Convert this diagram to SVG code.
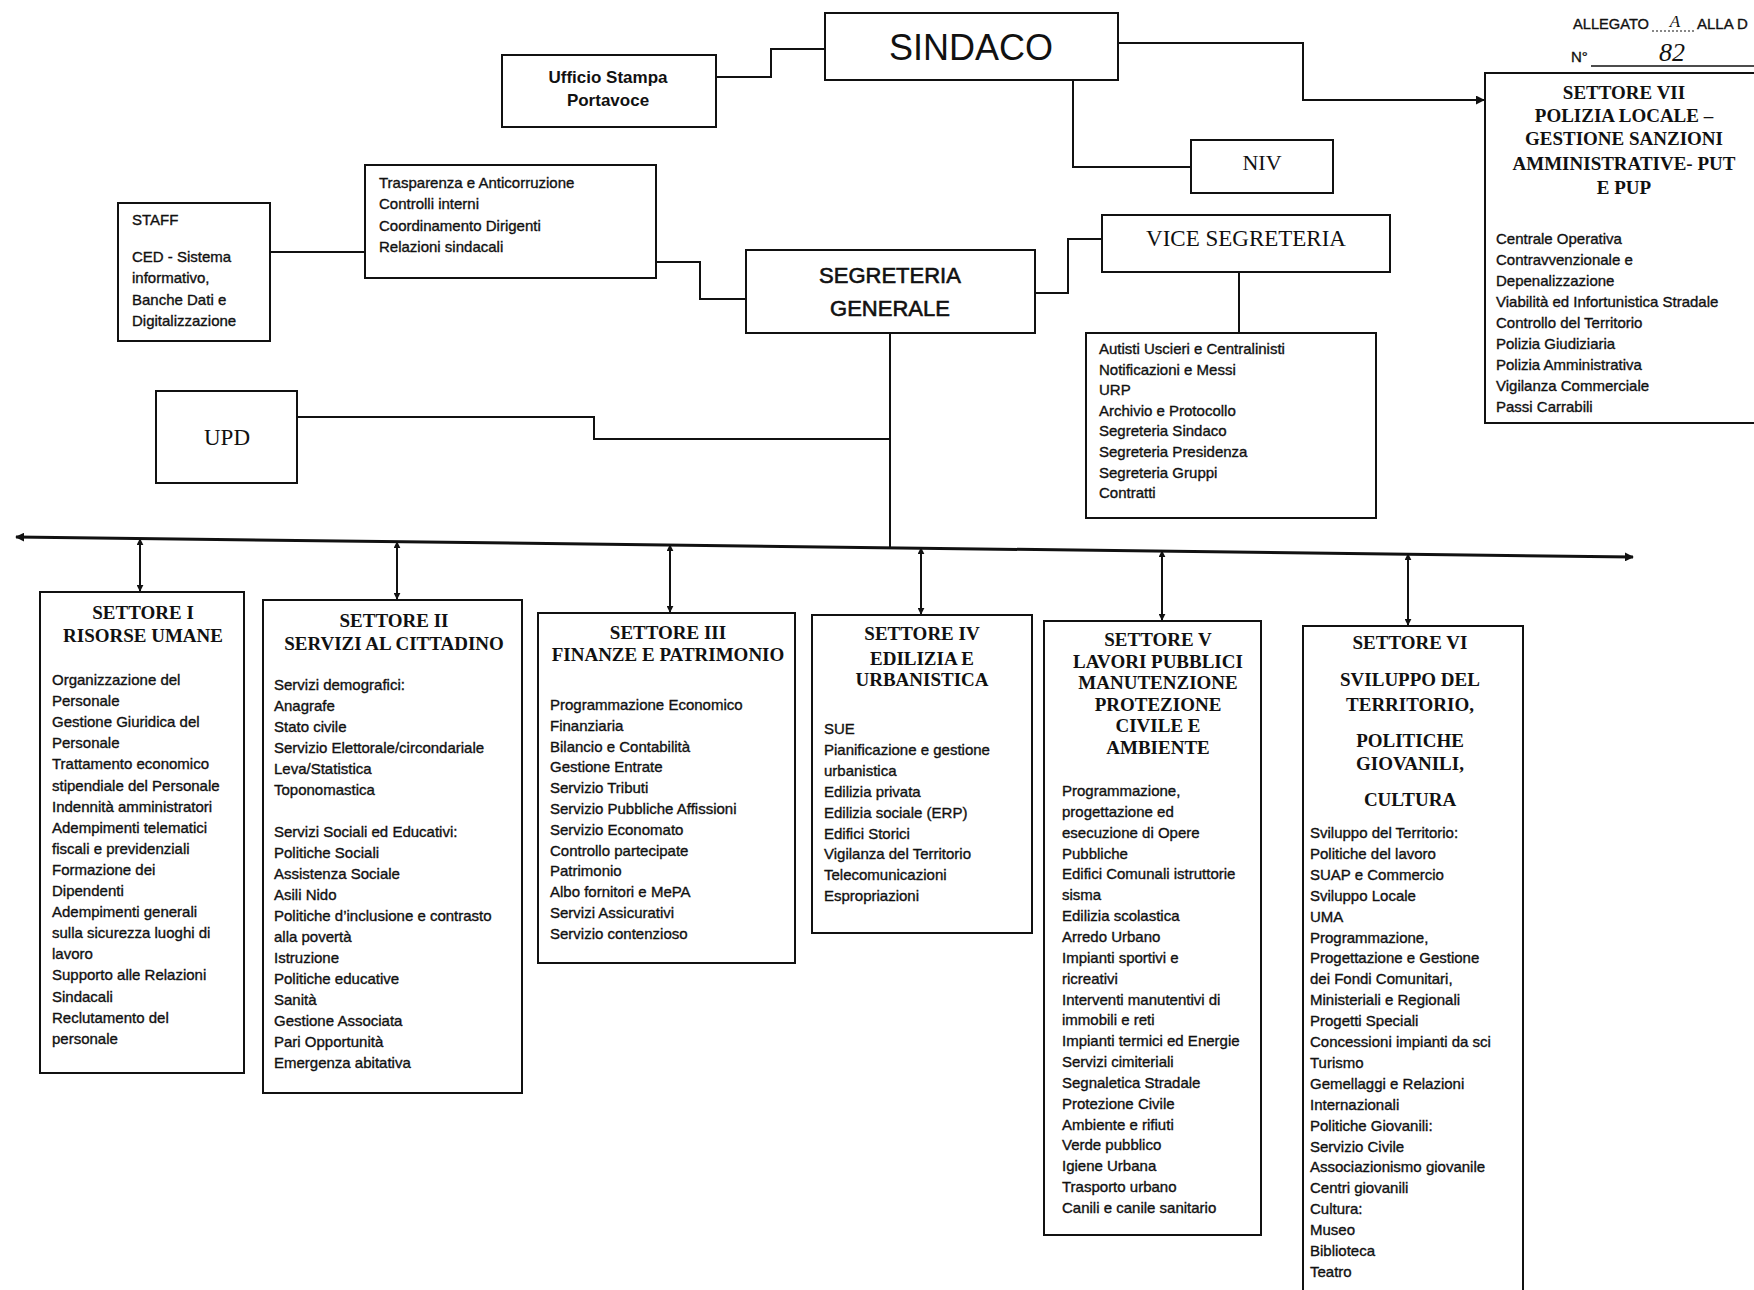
<svg xmlns="http://www.w3.org/2000/svg" width="1754" height="1290" viewBox="0 0 1754 1290">
<defs>
<style>
.box{fill:#fff;stroke:#111;stroke-width:2}
.ln{fill:none;stroke:#111;stroke-width:2}
.bus{fill:none;stroke:#111;stroke-width:3}
.sm{font-family:"Liberation Sans",Arial,sans-serif;font-size:15px;fill:#111;stroke:#111;stroke-width:0.35}
.mid{text-anchor:middle}
.hd{font-family:"Liberation Serif","Times New Roman",serif;font-weight:bold;font-size:19px;fill:#111;text-anchor:middle}
.ser{font-family:"Liberation Serif","Times New Roman",serif;fill:#111;text-anchor:middle}
.big{font-family:"Liberation Sans",Arial,sans-serif;fill:#111;text-anchor:middle}
</style>
<marker id="ah" viewBox="0 0 10 10" refX="9" refY="5" markerWidth="9" markerHeight="9" markerUnits="userSpaceOnUse" orient="auto-start-reverse">
<path d="M0,0 L10,5 L0,10 z" fill="#111"/>
</marker>
<marker id="ahs" viewBox="0 0 10 10" refX="9" refY="5" markerWidth="7" markerHeight="7" markerUnits="userSpaceOnUse" orient="auto-start-reverse">
<path d="M0,0 L10,5 L0,10 z" fill="#111"/>
</marker>
</defs>
<rect width="1754" height="1290" fill="#fff"/>

<g id="connectors">
<polyline class="ln" points="716,77 771,77 771,49 825,49"/>
<polyline class="ln" points="1118,43 1303,43 1303,100 1484,100" marker-end="url(#ah)"/>
<polyline class="ln" points="1073,80 1073,167 1191,167"/>
<line class="ln" x1="270" y1="252" x2="365" y2="252"/>
<polyline class="ln" points="656,262 700,262 700,299 746,299"/>
<polyline class="ln" points="1035,293 1068,293 1068,239 1102,239"/>
<line class="ln" x1="1239" y1="272" x2="1239" y2="333"/>
<line class="ln" x1="890" y1="333" x2="890" y2="548"/>
<polyline class="ln" points="297,417 594,417 594,439 890,439"/>
<line class="bus" x1="16" y1="537" x2="1633" y2="557" marker-start="url(#ah)" marker-end="url(#ah)"/>
<line class="ln" x1="140" y1="539" x2="140" y2="591" marker-start="url(#ahs)" marker-end="url(#ahs)"/>
<line class="ln" x1="397" y1="542" x2="397" y2="599" marker-start="url(#ahs)" marker-end="url(#ahs)"/>
<line class="ln" x1="670" y1="545" x2="670" y2="612" marker-start="url(#ahs)" marker-end="url(#ahs)"/>
<line class="ln" x1="921" y1="548" x2="921" y2="614" marker-start="url(#ahs)" marker-end="url(#ahs)"/>
<line class="ln" x1="1162" y1="551" x2="1162" y2="620" marker-start="url(#ahs)" marker-end="url(#ahs)"/>
<line class="ln" x1="1408" y1="554" x2="1408" y2="625" marker-start="url(#ahs)" marker-end="url(#ahs)"/>
</g>

<g id="allegato">
<text class="sm" x="1573" y="29" font-size="15" textLength="76" lengthAdjust="spacingAndGlyphs">ALLEGATO</text>
<line x1="1652" y1="31" x2="1694" y2="31" stroke="#111" stroke-width="1.2" stroke-dasharray="2,2"/>
<text class="ser" x="1675" y="27" font-size="17" font-style="italic">A</text>
<text class="sm" x="1697" y="29">ALLA D</text>
<text class="sm" x="1571" y="62">N°</text>
<line x1="1591" y1="66" x2="1754" y2="66" stroke="#111" stroke-width="1.5"/>
<text class="ser" x="1672" y="61" font-size="26" font-style="italic">82</text>
</g>

<g id="sindaco">
<rect class="box" x="825" y="13" width="293" height="67"/>
<text class="big" x="971" y="60" font-size="36">SINDACO</text>
</g>

<g id="ufficio-stampa">
<rect class="box" x="502" y="55" width="214" height="72"/>
<text class="big" x="608" y="83" font-size="17" font-weight="bold">Ufficio Stampa</text>
<text class="big" x="608" y="106" font-size="17" font-weight="bold">Portavoce</text>
</g>

<g id="niv">
<rect class="box" x="1191" y="140" width="142" height="53"/>
<text class="ser" x="1262" y="170" font-size="22">NIV</text>
</g>

<g id="settore-vii">
<rect class="box" x="1485" y="73" width="280" height="350"/>
<text class="hd" font-size="20"><tspan x="1624" y="99">SETTORE VII</tspan><tspan x="1624" y="122">POLIZIA LOCALE –</tspan><tspan x="1624" y="145">GESTIONE SANZIONI</tspan><tspan x="1624" y="170">AMMINISTRATIVE- PUT</tspan><tspan x="1624" y="194">E PUP</tspan></text>
<text class="sm"><tspan x="1496" y="244">Centrale Operativa</tspan><tspan x="1496" dy="21">Contravvenzionale e</tspan><tspan x="1496" dy="21">Depenalizzazione</tspan><tspan x="1496" dy="21">Viabilità ed Infortunistica Stradale</tspan><tspan x="1496" dy="21">Controllo del Territorio</tspan><tspan x="1496" dy="21">Polizia Giudiziaria</tspan><tspan x="1496" dy="21">Polizia Amministrativa</tspan><tspan x="1496" dy="21">Vigilanza Commerciale</tspan><tspan x="1496" dy="21">Passi Carrabili</tspan></text>
</g>

<g id="staff">
<rect class="box" x="118" y="203" width="152" height="138"/>
<text class="sm"><tspan x="132" y="225">STAFF</tspan><tspan x="132" y="262">CED - Sistema</tspan><tspan x="132" y="283">informativo,</tspan><tspan x="132" y="305">Banche Dati e</tspan><tspan x="132" y="326">Digitalizzazione</tspan></text>
</g>

<g id="trasparenza">
<rect class="box" x="365" y="165" width="291" height="113"/>
<text class="sm"><tspan x="379" y="188">Trasparenza e Anticorruzione</tspan><tspan x="379" y="209">Controlli interni</tspan><tspan x="379" y="231">Coordinamento Dirigenti</tspan><tspan x="379" y="252">Relazioni sindacali</tspan></text>
</g>

<g id="segreteria-generale">
<rect class="box" x="746" y="250" width="289" height="83"/>
<text class="big" x="890" y="283" font-size="22" stroke="#111" stroke-width="0.6">SEGRETERIA</text>
<text class="big" x="890" y="316" font-size="22" stroke="#111" stroke-width="0.6">GENERALE</text>
</g>

<g id="vice-segreteria">
<rect class="box" x="1102" y="215" width="288" height="57"/>
<text class="ser" x="1246" y="246" font-size="23">VICE SEGRETERIA</text>
</g>

<g id="uffici-vice">
<rect class="box" x="1086" y="333" width="290" height="185"/>
<text class="sm"><tspan x="1099" y="354">Autisti Uscieri e Centralinisti</tspan><tspan x="1099" dy="20.6">Notificazioni e Messi</tspan><tspan x="1099" dy="20.6">URP</tspan><tspan x="1099" dy="20.6">Archivio e Protocollo</tspan><tspan x="1099" dy="20.6">Segreteria Sindaco</tspan><tspan x="1099" dy="20.6">Segreteria Presidenza</tspan><tspan x="1099" dy="20.6">Segreteria Gruppi</tspan><tspan x="1099" dy="20.6">Contratti</tspan></text>
</g>

<g id="upd">
<rect class="box" x="156" y="391" width="141" height="92"/>
<text class="ser" x="227" y="445" font-size="23">UPD</text>
</g>

<g id="settore-i">
<rect class="box" x="40" y="592" width="204" height="481"/>
<text class="hd" font-size="20"><tspan x="143" y="619">SETTORE I</tspan><tspan x="143" y="642">RISORSE UMANE</tspan></text>
<text class="sm"><tspan x="52" y="685">Organizzazione del</tspan><tspan x="52" dy="21.1">Personale</tspan><tspan x="52" dy="21.1">Gestione Giuridica del</tspan><tspan x="52" dy="21.1">Personale</tspan><tspan x="52" dy="21.1">Trattamento economico</tspan><tspan x="52" dy="21.1">stipendiale del Personale</tspan><tspan x="52" dy="21.1">Indennità amministratori</tspan><tspan x="52" dy="21.1">Adempimenti telematici</tspan><tspan x="52" dy="21.1">fiscali  e  previdenziali</tspan><tspan x="52" dy="21.1">Formazione dei</tspan><tspan x="52" dy="21.1">Dipendenti</tspan><tspan x="52" dy="21.1">Adempimenti generali</tspan><tspan x="52" dy="21.1">sulla sicurezza luoghi di</tspan><tspan x="52" dy="21.1">lavoro</tspan><tspan x="52" dy="21.1">Supporto alle Relazioni</tspan><tspan x="52" dy="21.1">Sindacali</tspan><tspan x="52" dy="21.1">Reclutamento del</tspan><tspan x="52" dy="21.1">personale</tspan></text>
</g>

<g id="settore-ii">
<rect class="box" x="263" y="600" width="259" height="493"/>
<text class="hd"><tspan x="394" y="627">SETTORE II</tspan><tspan x="394" y="650">SERVIZI AL CITTADINO</tspan></text>
<text class="sm"><tspan x="274" y="690">Servizi demografici:</tspan><tspan x="274" dy="21">Anagrafe</tspan><tspan x="274" dy="21">Stato civile</tspan><tspan x="274" dy="21">Servizio Elettorale/circondariale</tspan><tspan x="274" dy="21">Leva/Statistica</tspan><tspan x="274" dy="21">Toponomastica</tspan><tspan x="274" dy="42">Servizi Sociali  ed Educativi:</tspan><tspan x="274" dy="21">Politiche Sociali</tspan><tspan x="274" dy="21">Assistenza Sociale</tspan><tspan x="274" dy="21">Asili Nido</tspan><tspan x="274" dy="21">Politiche d’inclusione e contrasto</tspan><tspan x="274" dy="21">alla povertà</tspan><tspan x="274" dy="21">Istruzione</tspan><tspan x="274" dy="21">Politiche educative</tspan><tspan x="274" dy="21">Sanità</tspan><tspan x="274" dy="21">Gestione Associata</tspan><tspan x="274" dy="21">Pari Opportunità</tspan><tspan x="274" dy="21">Emergenza abitativa</tspan></text>
</g>

<g id="settore-iii">
<rect class="box" x="538" y="613" width="257" height="350"/>
<text class="hd"><tspan x="668" y="639">SETTORE III</tspan><tspan x="668" y="661">FINANZE E PATRIMONIO</tspan></text>
<text class="sm"><tspan x="550" y="710">Programmazione Economico</tspan><tspan x="550" dy="20.8">Finanziaria</tspan><tspan x="550" dy="20.8">Bilancio e Contabilità</tspan><tspan x="550" dy="20.8">Gestione Entrate</tspan><tspan x="550" dy="20.8">Servizio Tributi</tspan><tspan x="550" dy="20.8">Servizio Pubbliche Affissioni</tspan><tspan x="550" dy="20.8">Servizio Economato</tspan><tspan x="550" dy="20.8">Controllo partecipate</tspan><tspan x="550" dy="20.8">Patrimonio</tspan><tspan x="550" dy="20.8">Albo fornitori e MePA</tspan><tspan x="550" dy="20.8">Servizi Assicurativi</tspan><tspan x="550" dy="20.8">Servizio contenzioso</tspan></text>
</g>

<g id="settore-iv">
<rect class="box" x="812" y="615" width="220" height="318"/>
<text class="hd" font-size="18.5"><tspan x="922" y="640">SETTORE IV</tspan><tspan x="922" y="665">EDILIZIA  E</tspan><tspan x="922" y="686">URBANISTICA</tspan></text>
<text class="sm"><tspan x="824" y="734">SUE</tspan><tspan x="824" dy="20.9">Pianificazione e gestione</tspan><tspan x="824" dy="20.9">urbanistica</tspan><tspan x="824" dy="20.9">Edilizia privata</tspan><tspan x="824" dy="20.9">Edilizia sociale (ERP)</tspan><tspan x="824" dy="20.9">Edifici Storici</tspan><tspan x="824" dy="20.9">Vigilanza del Territorio</tspan><tspan x="824" dy="20.9">Telecomunicazioni</tspan><tspan x="824" dy="20.9">Espropriazioni</tspan></text>
</g>

<g id="settore-v">
<rect class="box" x="1044" y="621" width="217" height="614"/>
<text class="hd"><tspan x="1158" y="646">SETTORE V</tspan><tspan x="1158" dy="21.6">LAVORI PUBBLICI</tspan><tspan x="1158" dy="21.6">MANUTENZIONE</tspan><tspan x="1158" dy="21.6">PROTEZIONE</tspan><tspan x="1158" dy="21.6">CIVILE  E</tspan><tspan x="1158" dy="21.6">AMBIENTE</tspan></text>
<text class="sm"><tspan x="1062" y="796">Programmazione,</tspan><tspan x="1062" dy="20.85">progettazione ed</tspan><tspan x="1062" dy="20.85">esecuzione di Opere</tspan><tspan x="1062" dy="20.85">Pubbliche</tspan><tspan x="1062" dy="20.85">Edifici Comunali istruttorie</tspan><tspan x="1062" dy="20.85">sisma</tspan><tspan x="1062" dy="20.85">Edilizia scolastica</tspan><tspan x="1062" dy="20.85">Arredo Urbano</tspan><tspan x="1062" dy="20.85">Impianti sportivi e</tspan><tspan x="1062" dy="20.85">ricreativi</tspan><tspan x="1062" dy="20.85">Interventi manutentivi di</tspan><tspan x="1062" dy="20.85">immobili e reti</tspan><tspan x="1062" dy="20.85">Impianti termici ed Energie</tspan><tspan x="1062" dy="20.85">Servizi cimiteriali</tspan><tspan x="1062" dy="20.85">Segnaletica Stradale</tspan><tspan x="1062" dy="20.85">Protezione Civile</tspan><tspan x="1062" dy="20.85">Ambiente e rifiuti</tspan><tspan x="1062" dy="20.85">Verde pubblico</tspan><tspan x="1062" dy="20.85">Igiene Urbana</tspan><tspan x="1062" dy="20.85">Trasporto urbano</tspan><tspan x="1062" dy="20.85">Canili e canile sanitario</tspan></text>
</g>

<g id="settore-vi">
<rect class="box" x="1303" y="626" width="220" height="680"/>
<text class="hd" font-size="20"><tspan x="1410" y="649">SETTORE VI</tspan><tspan x="1410" y="686">SVILUPPO DEL</tspan><tspan x="1410" y="711">TERRITORIO,</tspan><tspan x="1410" y="747">POLITICHE</tspan><tspan x="1410" y="770">GIOVANILI,</tspan><tspan x="1410" y="806">CULTURA</tspan></text>
<text class="sm"><tspan x="1310" y="838">Sviluppo del Territorio:</tspan><tspan x="1310" dy="20.9">Politiche del lavoro</tspan><tspan x="1310" dy="20.9">SUAP e Commercio</tspan><tspan x="1310" dy="20.9">Sviluppo Locale</tspan><tspan x="1310" dy="20.9">UMA</tspan><tspan x="1310" dy="20.9">Programmazione,</tspan><tspan x="1310" dy="20.9">Progettazione e Gestione</tspan><tspan x="1310" dy="20.9">dei Fondi Comunitari,</tspan><tspan x="1310" dy="20.9">Ministeriali e Regionali</tspan><tspan x="1310" dy="20.9">Progetti Speciali</tspan><tspan x="1310" dy="20.9">Concessioni impianti da sci</tspan><tspan x="1310" dy="20.9">Turismo</tspan><tspan x="1310" dy="20.9">Gemellaggi e Relazioni</tspan><tspan x="1310" dy="20.9">Internazionali</tspan><tspan x="1310" dy="20.9">Politiche Giovanili:</tspan><tspan x="1310" dy="20.9">Servizio Civile</tspan><tspan x="1310" dy="20.9">Associazionismo giovanile</tspan><tspan x="1310" dy="20.9">Centri giovanili</tspan><tspan x="1310" dy="20.9">Cultura:</tspan><tspan x="1310" dy="20.9">Museo</tspan><tspan x="1310" dy="20.9">Biblioteca</tspan><tspan x="1310" dy="20.9">Teatro</tspan></text>
</g>
</svg>
